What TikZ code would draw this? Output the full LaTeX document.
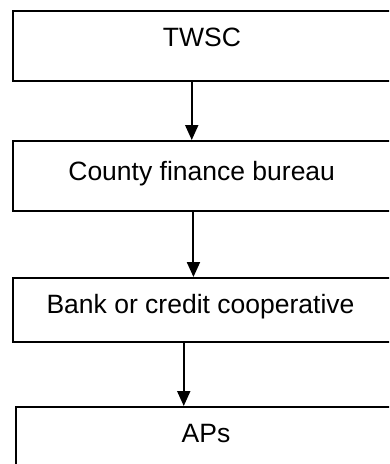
\documentclass[tikz,border=0pt]{standalone}
\usepackage{fontspec}
\setmainfont{Liberation Sans}
\usetikzlibrary{arrows.meta}
\begin{document}
\begin{tikzpicture}[x=1pt,y=-1pt,
  box/.style={draw=black,line width=1.5pt,rectangle,inner sep=0pt,anchor=north west,minimum width=380pt},
  lbl/.style={anchor=base,inner sep=0pt,font=\fontsize{26.5}{31}\selectfont},
  arr/.style={line width=2pt,-{Triangle[length=15pt,width=13pt]}}]
\clip (0,0) rectangle (389,464);
\useasboundingbox (0,0) rectangle (389,464);
\node[box,minimum height=70pt] (b1) at (12,10) {};
\node[box,minimum height=70pt] (b2) at (12,140) {};
\node[box,minimum height=64pt] (b3) at (12,277) {};
\node[box,minimum height=70pt,minimum width=382pt] (b4) at (15,406) {};
\node[lbl] (t1) at (202,46.7) {TWSC};
\node[lbl] (t2) at (201.7,180) {County finance bureau};
\node[lbl] (t3) at (200.5,313.3) {Bank or credit cooperative};
\node[lbl] (t4) at (206,442) {APs};
\draw[arr] ([xshift=-11pt]b1.south) -- ([xshift=-11pt]b2.north);
\draw[arr] ([xshift=-9.3pt]b2.south) -- ([xshift=-9.3pt]b3.north);
\draw[arr] ([xshift=-19pt]b3.south) -- ([xshift=-19pt]b3.south |- b4.north);
\end{tikzpicture}
\end{document}
